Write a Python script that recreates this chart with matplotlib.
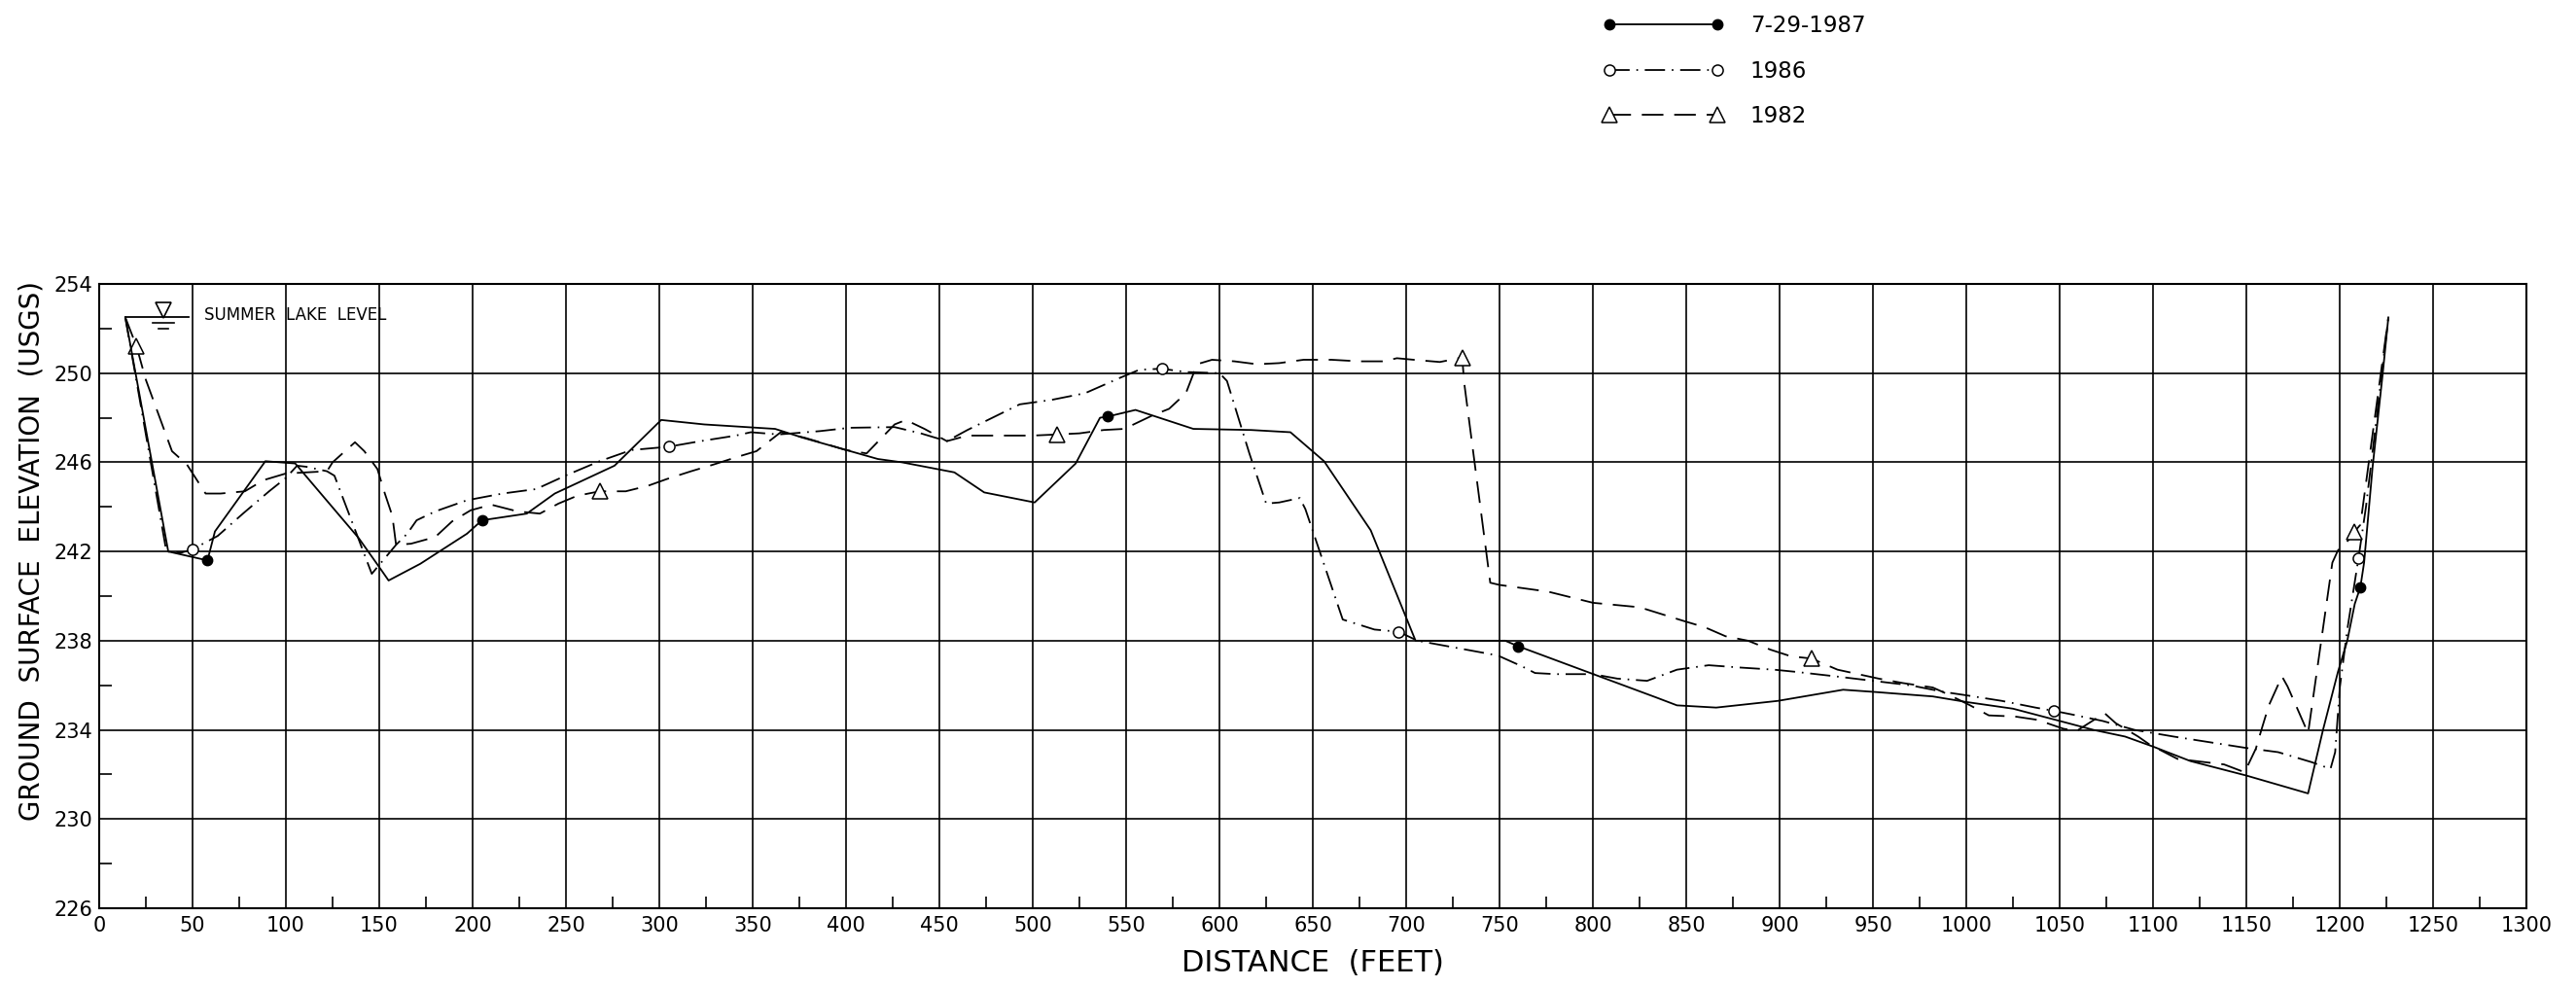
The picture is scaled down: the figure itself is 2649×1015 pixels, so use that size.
import matplotlib
matplotlib.use("Agg")
import matplotlib.pyplot as plt
from matplotlib.lines import Line2D
from matplotlib.ticker import FixedLocator

plt.rcParams['font.family'] = ['DejaVu Sans']
plt.rcParams['lines.scale_dashes'] = False

# ---- survey profiles: distance (ft) vs ground surface elevation (USGS) ----
dist_1987 = [14, 37, 58, 62, 89, 105, 139, 150, 155, 172, 197, 205, 229, 244, 276,
             301, 324, 362, 377, 417, 430, 458, 474, 501, 523, 536, 540, 555, 586,
             617, 638, 656, 681, 705, 753, 760, 834, 845, 866, 899, 934, 951, 982,
             1000, 1025, 1050, 1068, 1085, 1100, 1120, 1150, 1183, 1191, 1199, 1204,
             1208, 1211, 1213, 1217.5, 1223, 1226]
elev_1987 = [252.5, 242.0, 241.6, 242.9, 246.05, 245.95, 242.6, 241.3, 240.7, 241.45,
             242.8, 243.4, 243.7, 244.6, 245.85, 247.9, 247.7, 247.5, 247.1, 246.15,
             246.0, 245.55, 244.65, 244.2, 245.95, 248.0, 248.05, 248.35, 247.5,
             247.45, 247.35, 246.05, 242.95, 238.0, 238.0, 237.75, 235.45, 235.1,
             235.0, 235.3, 235.8, 235.7, 235.5, 235.25, 234.95, 234.4, 234.0, 233.7,
             233.25, 232.6, 231.95, 231.15, 234.0, 236.6, 238.0, 239.65, 240.4,
             241.5, 245.75, 250.0, 252.5]
marks_1987 = [58, 205, 540, 760, 1211]

dist_1986 = [14, 36, 44, 50, 63.5, 77, 91, 100, 106, 111, 122, 126, 146, 159, 165,
             170, 180, 197, 216, 234, 251, 268, 285, 305, 322, 341, 349, 364, 386,
             402, 426, 440, 454, 465, 493, 510, 528, 547, 557, 569, 582, 600, 604,
             616, 625, 632, 643, 646, 666, 683, 696, 706, 745, 750, 762, 769, 780,
             800, 813, 829, 845, 862, 878, 897, 909, 930, 950, 970, 988, 1000, 1019,
             1037, 1047, 1056, 1073, 1090, 1111, 1130, 1149, 1167, 1185, 1195,
             1197.5, 1200, 1204, 1210, 1214, 1219, 1226]
elev_1986 = [252.5, 242.0, 241.95, 242.1, 242.7, 243.7, 244.7, 245.3, 245.85, 245.8,
             245.6, 245.4, 241.0, 242.3, 242.8, 243.4, 243.8, 244.3, 244.6, 244.8,
             245.45, 246.05, 246.55, 246.7, 246.95, 247.2, 247.35, 247.25, 247.4,
             247.55, 247.58, 247.3, 246.95, 247.45, 248.6, 248.8, 249.1, 249.8,
             250.15, 250.2, 250.05, 250.0, 249.65, 246.4, 244.15, 244.2, 244.4,
             243.9, 238.95, 238.5, 238.4, 238.0, 237.4, 237.3, 236.85, 236.55,
             236.5, 236.5, 236.3, 236.2, 236.7, 236.9, 236.8, 236.7, 236.6, 236.4,
             236.2, 236.0, 235.7, 235.55, 235.3, 235.0, 234.85, 234.7, 234.4, 234.0,
             233.7, 233.45, 233.2, 233.0, 232.55, 232.25, 233.0, 235.9, 238.5,
             241.7, 244.0, 247.5, 252.5]
marks_1986 = [50, 305, 569, 696, 1047, 1210]

dist_1982 = [14, 20, 25, 39, 47, 57, 65, 78, 88, 100, 111, 122, 125, 133, 137, 142,
             149, 153, 157, 159, 167, 180, 189, 199, 210, 224, 236, 246, 256, 268,
             282, 294, 304, 317, 329, 342, 352, 365, 378, 400, 411, 426, 432, 442,
             454, 465, 488, 500, 513, 525, 538, 549, 564, 573, 582, 588, 596, 608,
             620, 632, 645, 660, 675, 688, 695, 704, 718, 730, 731, 745, 750, 776,
             800, 825, 848, 860, 871, 883, 895, 906, 917, 931, 942, 953, 966, 982,
             990, 1002, 1012, 1026, 1038, 1052, 1059, 1074, 1080, 1092, 1098, 1113,
             1123, 1138, 1149, 1155, 1158, 1162, 1169, 1172, 1177, 1183, 1196, 1199,
             1204.5, 1208, 1211, 1226]
elev_1982 = [252.5, 251.2, 249.7, 246.5, 245.9, 244.6, 244.6, 244.7, 245.2, 245.5,
             245.55, 245.6, 246.0, 246.6, 246.9, 246.5, 245.7, 244.6, 243.6, 242.3,
             242.35, 242.65, 243.35, 243.85, 244.1, 243.8, 243.7, 244.15, 244.5,
             244.7, 244.7, 244.95, 245.25, 245.6, 245.9, 246.25, 246.5, 247.35,
             247.1, 246.55, 246.4, 247.7, 247.9, 247.5, 246.95, 247.2, 247.2, 247.2,
             247.25, 247.3, 247.45, 247.5, 248.1, 248.4, 249.1, 250.4, 250.6, 250.53,
             250.4, 250.45, 250.6, 250.6, 250.53, 250.53, 250.67, 250.6, 250.5,
             250.7, 249.6, 240.6, 240.5, 240.2, 239.7, 239.5, 238.9, 238.6, 238.2,
             238.0, 237.6, 237.3, 237.2, 236.7, 236.5, 236.3, 236.1, 235.9, 235.6,
             235.1, 234.65, 234.6, 234.45, 234.05, 233.95, 234.75, 234.3, 233.7,
             233.35, 232.7, 232.6, 232.45, 232.1, 233.15, 234.0, 235.1, 236.4,
             235.95, 235.0, 233.85, 241.5, 242.05, 242.5, 242.9, 243.2, 252.5]
marks_1982 = [20, 268, 513, 730, 917, 1208]

lake_extent = [14, 48]
lake_level = 252.5

x_ticks = list(range(0, 1301, 50))
y_ticks = list(range(226, 255, 4))

series_labels = ['7-29-1987', '1986', '1982']

INK = 'black'
LW = 1.3
style_1987 = dict(color=INK, lw=LW, ls='-', marker='o', ms=7.5, mfc=INK, mec=INK)
style_1986 = dict(color=INK, lw=LW, ls=(0, (15, 5, 1.2, 5)), marker='o', ms=8,
                  mfc='white', mec=INK, mew=1.1)
style_1982 = dict(color=INK, lw=LW, ls=(0, (16, 8)), marker='^', ms=12,
                  mfc='white', mec=INK, mew=1.1)

fig = plt.figure(figsize=(26.49, 10.15), dpi=100)
ax = fig.add_axes([0.0385, 0.0798, 0.9423, 0.6325])

def idx(xs, marks):
    return [xs.index(m) for m in marks]

ax.plot(dist_1987, elev_1987, markevery=idx(dist_1987, marks_1987), zorder=4, **style_1987)
ax.plot(dist_1986, elev_1986, markevery=idx(dist_1986, marks_1986), zorder=3, **style_1986)
ax.plot(dist_1982, elev_1982, markevery=idx(dist_1982, marks_1982), zorder=3, **style_1982)

# summer lake level with water-surface symbol
ax.plot(lake_extent, [lake_level, lake_level], color=INK, lw=LW, zorder=4)
sym_x = lake_extent[0] + 0.6 * (lake_extent[1] - lake_extent[0])
ax.plot([sym_x], [lake_level + 0.33], marker='v', ms=11, mfc='white', mec=INK,
        mew=1.2, ls='none', zorder=5)
ax.plot([sym_x - 5.5, sym_x + 5.5], [lake_level - 0.25, lake_level - 0.25], color=INK, lw=1.2)
ax.plot([sym_x - 2.6, sym_x + 2.6], [lake_level - 0.52, lake_level - 0.52], color=INK, lw=1.2)
ax.text(lake_extent[1] + 8.5, lake_level + 0.12, 'SUMMER  LAKE  LEVEL', fontsize=12,
        va='center', ha='left', color=INK)

ax.set_xlim(0, 1300)
ax.set_ylim(226, 254)
ax.xaxis.set_major_locator(FixedLocator(x_ticks))
ax.yaxis.set_major_locator(FixedLocator(y_ticks))
ax.xaxis.set_minor_locator(FixedLocator([t + 25 for t in x_ticks[:-1]]))
ax.yaxis.set_minor_locator(FixedLocator([t + 2 for t in y_ticks[:-1]]))
ax.grid(True, which='major', color=INK, lw=1.2)
ax.tick_params(which='major', length=0, labelsize=15, pad=6, colors=INK)
ax.tick_params(axis='y', which='major', pad=5)
ax.tick_params(which='minor', direction='in', length=9, width=1.2, color=INK)
for s in ax.spines.values():
    s.set_linewidth(1.5)
    s.set_color(INK)

ax.set_xlabel('DISTANCE  (FEET)', fontsize=22, labelpad=10, color=INK)
ax.set_ylabel('GROUND  SURFACE  ELEVATION  (USGS)', fontsize=20, color=INK)
ax.yaxis.set_label_coords(-0.0222, 0.573)

handles = [Line2D([], [], **style_1987), Line2D([], [], **style_1986),
           Line2D([], [], **style_1982)]
fig.legend(handles, series_labels, loc='upper left', bbox_to_anchor=(0.622, 0.985),
           frameon=False, numpoints=2, fontsize=16.5, handlelength=5.46,
           handletextpad=1.18, labelspacing=1.02, borderpad=0, borderaxespad=0)

fig.savefig('out.png', dpi=100, facecolor='white')
